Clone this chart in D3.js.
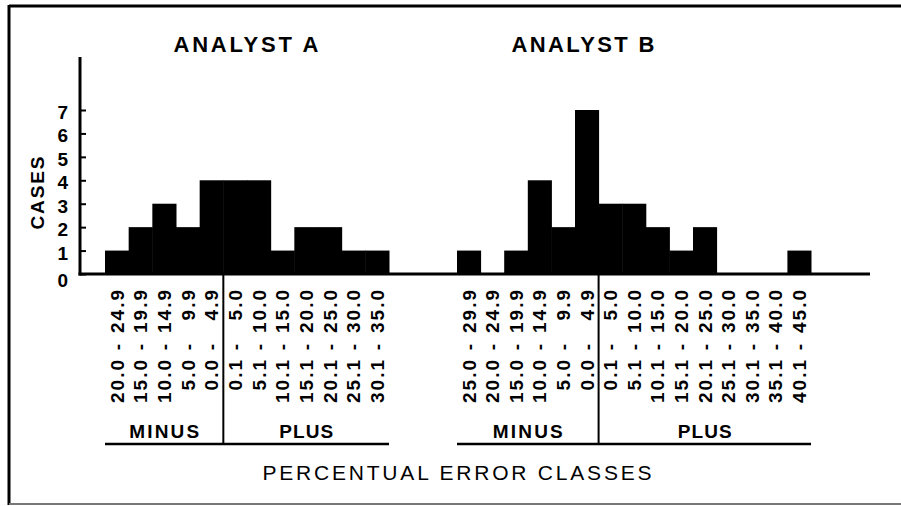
<!DOCTYPE html>
<html>
<head>
<meta charset="utf-8">
<title>Percentual error classes</title>
<style>
  body { margin: 0; background: #fff; }
  svg text { font-family: "Liberation Sans", Arial, sans-serif; fill: #000; }
</style>
</head>
<body>
<div id="chart"></div>
<script src="https://cdn.jsdelivr.net/npm/d3@7/dist/d3.min.js"></script>
<script>
// analyst A
var classesA = ["20.0 - 24.9", "15.0 - 19.9", "10.0 - 14.9", "5.0 - 9.9", "0.0 - 4.9",
                "0.1 - 5.0", "5.1 - 10.0", "10.1 - 15.0", "15.1 - 20.0", "20.1 - 25.0",
                "25.1 - 30.0", "30.1 - 35.0"];
var casesA = [1, 2, 3, 2, 4, 4, 4, 1, 2, 2, 1, 1];
var minusA = 5;

// analyst B
var classesB = ["25.0 - 29.9", "20.0 - 24.9", "15.0 - 19.9", "10.0 - 14.9", "5.0 - 9.9", "0.0 - 4.9",
                "0.1 - 5.0", "5.1 - 10.0", "10.1 - 15.0", "15.1 - 20.0", "20.1 - 25.0",
                "25.1 - 30.0", "30.1 - 35.0", "35.1 - 40.0", "40.1 - 45.0"];
var casesB = [1, 0, 1, 4, 2, 7, 3, 3, 2, 1, 2, 0, 0, 0, 1];
var minusB = 6;

var yTicks = [0, 1, 2, 3, 4, 5, 6, 7];

var svg = d3.select('#chart').append('svg')
    .attr('width', 901).attr('height', 506);

// outer frame (right side is cut off in the scan)
svg.append('line').attr('x1', 9).attr('x2', 901).attr('y1', 6).attr('y2', 6)
    .attr('stroke', '#000').attr('stroke-width', 3);
svg.append('line').attr('x1', 9).attr('x2', 9).attr('y1', 5).attr('y2', 505)
    .attr('stroke', '#000').attr('stroke-width', 3);
svg.append('line').attr('x1', 9).attr('x2', 901).attr('y1', 504).attr('y2', 504)
    .attr('stroke', '#777').attr('stroke-width', 2);

var y = d3.scaleLinear().domain([0, 7]).range([274, 110]);
var xA = d3.scaleBand().domain(d3.range(classesA.length)).range([105, 389]);
var xB = d3.scaleBand().domain(d3.range(classesB.length)).range([457, 811]);

// y axis, ticks pointing inward
var yAxis = svg.append('g').attr('transform', 'translate(80,0)')
    .call(d3.axisLeft(y).tickValues(yTicks).tickFormat(d3.format('d'))
      .tickSizeInner(-6).tickSizeOuter(0).tickPadding(12));
yAxis.select('.domain').remove();
yAxis.selectAll('.tick line').attr('stroke', '#000').attr('stroke-width', 2);
yAxis.selectAll('.tick text')
    .attr('font-family', '"Liberation Sans", Arial, sans-serif')
    .attr('font-size', 19).attr('font-weight', 'bold').attr('fill', '#000')
    .attr('dy', function(d) { return d === 0 ? '0.65em' : '0.45em'; });

svg.append('line').attr('x1', 80).attr('x2', 80).attr('y1', 57).attr('y2', 275.5)
    .attr('stroke', '#000').attr('stroke-width', 3);
svg.append('line').attr('x1', 78.5).attr('x2', 870).attr('y1', y(0)).attr('y2', y(0))
    .attr('stroke', '#000').attr('stroke-width', 3);

svg.append('text')
    .attr('transform', 'translate(37,193) rotate(-90)')
    .attr('text-anchor', 'middle').attr('dy', '0.35em')
    .attr('font-size', 19).attr('font-weight', 'bold')
    .attr('textLength', 73).attr('lengthAdjust', 'spacing')
    .text('CASES');

function panel(x, classes, cases, nMinus, title, titleX, titleLen) {
  var g = svg.append('g');
  var x0 = x.range()[0], x1 = x.range()[1], xm = x(nMinus);

  g.append('text')
      .attr('x', titleX).attr('y', 52)
      .attr('text-anchor', 'middle')
      .attr('font-size', 22).attr('font-weight', 'bold')
      .attr('textLength', titleLen).attr('lengthAdjust', 'spacing')
      .text(title);

  g.selectAll('.bar')
    .data(cases)
    .enter().append('rect')
    .attr('class', 'bar')
    .attr('x', function(d, i) { return x(i); })
    .attr('width', x.bandwidth() + 0.5)
    .attr('y', function(d) { return y(d); })
    .attr('height', function(d) { return y(0) - y(d); })
    .attr('fill', '#000');

  var lab = g.selectAll('.cls')
    .data(classes)
    .enter().append('g')
    .attr('class', 'cls')
    .attr('transform', function(d, i) { return 'translate(' + (x(i) + x.bandwidth() / 2) + ',0)'; });

  // upper bound, flush to the top
  lab.append('text')
      .attr('transform', 'translate(0,288) rotate(-90)')
      .attr('text-anchor', 'end').attr('dy', '0.36em')
      .attr('font-size', 19).attr('font-weight', 'bold')
      .style('letter-spacing', '2px')
      .text(function(d) { return d.split(' - ')[1]; });
  lab.append('text')
      .attr('transform', 'translate(0,347) rotate(-90)')
      .attr('text-anchor', 'middle').attr('dy', '0.36em')
      .attr('font-size', 19).attr('font-weight', 'bold')
      .text('-');
  // lower bound, flush under the dash
  lab.append('text')
      .attr('transform', 'translate(0,358) rotate(-90)')
      .attr('text-anchor', 'end').attr('dy', '0.36em')
      .attr('font-size', 19).attr('font-weight', 'bold')
      .style('letter-spacing', '2px')
      .text(function(d) { return d.split(' - ')[0]; });

  // minus / plus split
  g.append('line').attr('x1', xm).attr('x2', xm).attr('y1', y(0)).attr('y2', 445)
      .attr('stroke', '#000').attr('stroke-width', 2);
  g.append('line').attr('x1', x0).attr('x2', x1).attr('y1', 444).attr('y2', 444)
      .attr('stroke', '#000').attr('stroke-width', 2.5);

  g.append('text')
      .attr('x', (x0 + xm) / 2).attr('y', 438)
      .attr('text-anchor', 'middle')
      .attr('font-size', 19).attr('font-weight', 'bold')
      .attr('textLength', 70).attr('lengthAdjust', 'spacing')
      .text('MINUS');
  g.append('text')
      .attr('x', (xm + x1) / 2).attr('y', 438)
      .attr('text-anchor', 'middle')
      .attr('font-size', 19).attr('font-weight', 'bold')
      .attr('textLength', 54).attr('lengthAdjust', 'spacing')
      .text('PLUS');
}

panel(xA, classesA, casesA, minusA, 'ANALYST A', 246, 145);
panel(xB, classesB, casesB, minusB, 'ANALYST B', 583, 143);

svg.append('text')
    .attr('x', 457).attr('y', 480)
    .attr('text-anchor', 'middle')
    .attr('font-family', '"DejaVu Sans Condensed", "Liberation Sans", Arial, sans-serif')
    .attr('font-size', 21)
    .attr('textLength', 389).attr('lengthAdjust', 'spacing')
    .text('PERCENTUAL ERROR CLASSES');
</script>
</body>
</html>
